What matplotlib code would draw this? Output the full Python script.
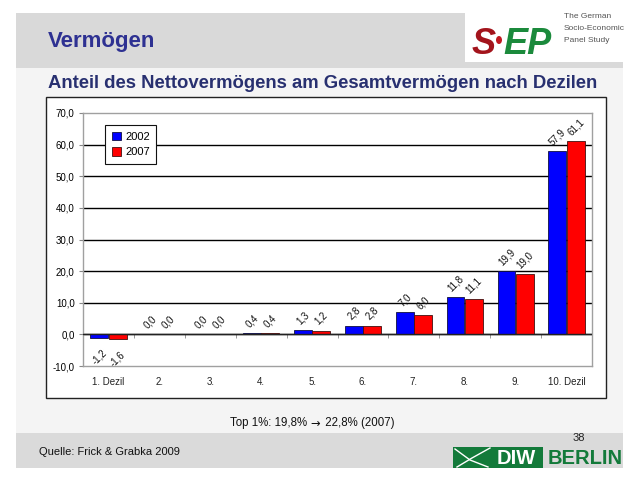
import matplotlib
matplotlib.use("Agg")
import matplotlib.pyplot as plt
from matplotlib.patches import Rectangle, Ellipse
from matplotlib.lines import Line2D
import numpy as np

plt.rcParams['font.family'] = ['Liberation Sans', 'DejaVu Sans']

# data
deciles = ['1. Dezil', '2.', '3.', '4.', '5.', '6.', '7.', '8.', '9.', '10. Dezil']
share_2002 = [-1.2, 0.0, 0.0, 0.4, 1.3, 2.8, 7.0, 11.8, 19.9, 57.9]
share_2007 = [-1.6, 0.0, 0.0, 0.4, 1.2, 2.8, 6.0, 11.1, 19.0, 61.1]
years = ['2002', '2007']
yticks = [-10, 0, 10, 20, 30, 40, 50, 60, 70]

W, H = 640, 478
fig = plt.figure(figsize=(6.4, 4.78), dpi=100)
fig.patch.set_facecolor('white')


def fx(x):
    return x / W


def fy(y):
    return 1 - y / H


def box(x0, y0, x1, y1, fc, ec='none', lw=0, z=0):
    fig.add_artist(Rectangle((fx(x0), fy(y1)), fx(x1) - fx(x0), fy(y0) - fy(y1),
                             transform=fig.transFigure, facecolor=fc, edgecolor=ec,
                             linewidth=lw, zorder=z))


# slide background
box(16, 62, 623, 468, '#f4f4f4')
box(16, 13, 465, 68, '#d9d9d9')
box(465, 62, 623, 68, '#d9d9d9')
box(16, 433, 623, 468, '#dadada')

# chart frame
box(46, 97, 606, 398, 'white', ec='#222222', lw=1.0, z=1)

# titles
fig.text(fx(48), fy(41), 'Vermögen', fontsize=16, fontweight='bold', color='#2e3192',
         va='center', ha='left')
fig.text(fx(48), fy(84), 'Anteil des Nettovermögens am Gesamtvermögen nach Dezilen',
         fontsize=13.3, fontweight='bold', color='#283070', va='center', ha='left')

# SOEP logo
fig.text(fx(472), fy(54), 'S', fontsize=26, fontweight='bold', fontstyle='italic',
         color='#a3141c', ha='left', va='baseline')
fig.add_artist(Ellipse((fx(499), fy(40)), fx(6), fy(0) - fy(8), transform=fig.transFigure,
                       facecolor='#c01820', edgecolor='none', zorder=2))
fig.text(fx(503), fy(54), 'EP', fontsize=26, fontweight='bold', fontstyle='italic',
         color='#1b8a3c', ha='left', va='baseline')
for i, line in enumerate(['The German', 'Socio-Economic', 'Panel Study']):
    fig.text(fx(564), fy(16 + 12.5 * i), line, fontsize=6, color='#555555',
             ha='left', va='center')

# footer
fig.text(fx(230), fy(423), 'Top 1%: 19,8% ', fontsize=8.3, color='#111111',
         ha='left', va='center')
fig.text(fx(315), fy(423), '→', fontsize=8.3, color='#111111', family='DejaVu Sans',
         ha='center', va='center')
fig.text(fx(322), fy(423), ' 22,8% (2007)', fontsize=8.3, color='#111111',
         ha='left', va='center')
fig.text(fx(39), fy(452), 'Quelle: Frick & Grabka 2009', fontsize=8, color='#111111',
         ha='left', va='center')
fig.text(fx(585), fy(438), '38', fontsize=8, color='#222222', ha='right', va='center')

# DIW logo
box(453, 447, 543, 468, '#137a3a', z=2)
fig.add_artist(Line2D([fx(455), fx(470), fx(488)], [fy(449), fy(460), fy(467)],
                      transform=fig.transFigure, color='white', lw=1.0, zorder=3))
fig.add_artist(Line2D([fx(457), fx(472), fx(490)], [fy(467), fy(458), fy(448)],
                      transform=fig.transFigure, color='white', lw=1.0, zorder=3))
fig.text(fx(516), fy(458), 'DIW', fontsize=14.5, fontweight='bold', color='white',
         ha='center', va='center', zorder=4)
fig.text(fx(548), fy(458), 'BERLIN', fontsize=14.5, fontweight='bold', color='#137a3a',
         ha='left', va='center', zorder=4)

# chart
ax = fig.add_axes([fx(83), fy(366), fx(592) - fx(83), fy(113) - fy(366)], zorder=5)
ax.set_facecolor('white')
x = np.arange(len(deciles))
off, bw = 0.18, 0.35
b1 = ax.bar(x - off, share_2002, bw, color='#0000ff', edgecolor='#101040', linewidth=0.6,
            label=years[0], zorder=3)
b2 = ax.bar(x + off, share_2007, bw, color='#ff0000', edgecolor='#401010', linewidth=0.6,
            label=years[1], zorder=3)

for bars, vals in ((b1, share_2002), (b2, share_2007)):
    for rect, v in zip(bars, vals):
        cx = rect.get_x() + rect.get_width() / 2
        lbl = f'{v:.1f}'.replace('.', ',')
        if v >= 0:
            ax.annotate(lbl, (cx, v), xytext=(0, 3), textcoords='offset points',
                        rotation=45, ha='center', va='bottom', fontsize=7, color='#111111')
        else:
            ax.annotate(lbl, (cx, v), xytext=(0, -7), textcoords='offset points',
                        rotation=45, ha='center', va='top', fontsize=7, color='#111111')

ax.set_ylim(-10, 70)
ax.set_xlim(-0.5, len(deciles) - 0.5)
ax.set_yticks(yticks)
ax.set_yticklabels([f'{t:.1f}'.replace('.', ',') for t in yticks], fontsize=7)
for t in yticks[1:-1]:
    ax.axhline(t, color='black', linewidth=1.0, zorder=1)
ax.axhline(0, color='#222222', linewidth=1.0, zorder=4)

ax.set_xticks(x)
ax.set_xticklabels(deciles, fontsize=7, color='#222222')
ax.tick_params(axis='x', length=0, pad=8)
ax.tick_params(axis='y', length=3, width=0.8, color='#888888', pad=3)
for s in ax.spines.values():
    s.set_color('#a0a0a0')
    s.set_linewidth(1.0)

# small separator ticks on the zero line
sec = ax.secondary_xaxis(10 / 80)
sec.set_xticks(np.arange(len(deciles) - 1) + 0.5)
sec.set_xticklabels([])
sec.tick_params(length=3, width=0.6, color='#888888', direction='out')
sec.spines['bottom'].set_visible(False)

leg = ax.legend(loc='upper left', bbox_to_anchor=(fx(105), fy(125)),
                bbox_transform=fig.transFigure, borderaxespad=0, fontsize=8,
                frameon=True, fancybox=False, framealpha=1, edgecolor='#111111',
                handlelength=0.8, handleheight=0.8, handletextpad=0.4,
                labelspacing=0.5, borderpad=0.6)
leg.get_frame().set_linewidth(0.8)

fig.savefig('out.png', dpi=100)
